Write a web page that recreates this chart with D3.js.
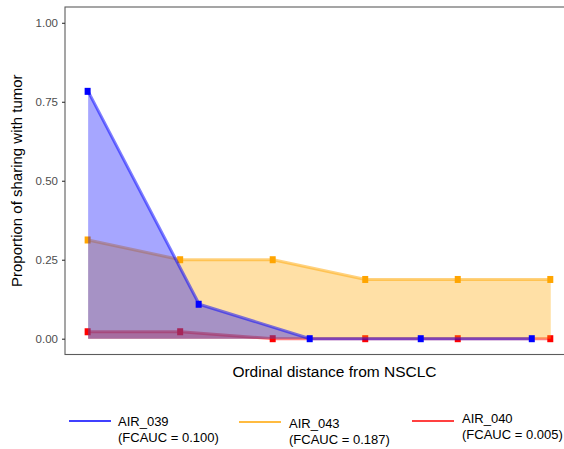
<!DOCTYPE html>
<html>
<head>
<meta charset="utf-8">
<script src="https://cdn.jsdelivr.net/npm/d3@7"></script>
<style>
  html, body { margin: 0; padding: 0; background: #fff; }
  svg { display: block; font-family: "Liberation Sans", Arial, Helvetica, sans-serif; }
</style>
</head>
<body>
<svg id="chart" width="564" height="449"></svg>
<script>
// Sharing proportion by ordinal distance for each patient
const seriesNames = ["AIR_039", "AIR_043", "AIR_040"];
const seriesColors = ["#0000FF", "#FFA500", "#FF0000"];
const fcaucLabels = ["(FCAUC = 0.100)", "(FCAUC = 0.187)", "(FCAUC = 0.005)"];

const xAIR039 = [0, 0.24, 0.48, 0.72, 0.96];
const yAIR039 = [0.783, 0.109, 0, 0, 0];
const xAIR043 = [0, 0.2, 0.4, 0.6, 0.8, 1.0];
const yAIR043 = [0.3125, 0.25, 0.25, 0.1875, 0.1875, 0.1875];
const xAIR040 = [0, 0.2, 0.4, 0.6, 0.8, 1.0];
const yAIR040 = [0.022, 0.022, 0, 0, 0, 0];

const yTicks = [0, 0.25, 0.5, 0.75, 1.0];

const series = [
  { name: seriesNames[0], color: seriesColors[0], label: fcaucLabels[0],
    pts: xAIR039.map((x, i) => ({ x, y: yAIR039[i] })) },
  { name: seriesNames[1], color: seriesColors[1], label: fcaucLabels[1],
    pts: xAIR043.map((x, i) => ({ x, y: yAIR043[i] })) },
  { name: seriesNames[2], color: seriesColors[2], label: fcaucLabels[2],
    pts: xAIR040.map((x, i) => ({ x, y: yAIR040[i] })) }
];

const svg = d3.select("#chart");
const panel = { left: 65, right: 604, top: 7, bottom: 354.5 };

const x = d3.scaleLinear().domain([-0.05, 1.115]).range([panel.left, panel.right]);
const y = d3.scaleLinear().domain([-0.05, 1.05]).range([panel.bottom, panel.top]);

// panel border
svg.append("rect")
  .attr("x", panel.left).attr("y", panel.top)
  .attr("width", panel.right - panel.left).attr("height", panel.bottom - panel.top)
  .attr("fill", "none").attr("stroke", "#5c5c5c").attr("stroke-width", 1.1);

// y axis
const yAxis = d3.axisLeft(y).tickValues(yTicks).tickFormat(d3.format(".2f"))
  .tickSize(3).tickPadding(4);
const gy = svg.append("g").attr("transform", `translate(${panel.left},0)`).call(yAxis);
gy.select(".domain").remove();
gy.selectAll(".tick line").attr("stroke", "#333").attr("stroke-width", 1.1);
gy.selectAll(".tick text").attr("fill", "#4d4d4d")
  .style("font-size", "11.5px").style("font-family", "Liberation Sans, Arial, sans-serif");

// axis titles
svg.append("text")
  .attr("transform", `translate(22,${(panel.top + panel.bottom) / 2}) rotate(-90)`)
  .attr("text-anchor", "middle")
  .style("font-size", "15px").attr("fill", "#000")
  .text("Proportion of sharing with tumor");

svg.append("text")
  .attr("x", (panel.left + panel.right) / 2).attr("y", 377)
  .attr("text-anchor", "middle")
  .style("font-size", "15.5px").attr("fill", "#000")
  .text("Ordinal distance from NSCLC");

const plot = svg.append("g");
const line = d3.line().x(d => x(d.x)).y(d => y(d.y));
const area = d3.area().x(d => x(d.x)).y0(y(0)).y1(d => y(d.y));

// each patient: shaded area, then line, then points
const drawOrder = [2, 1, 0];
drawOrder.forEach(i => {
  const s = series[i];
  const g = plot.append("g");
  g.append("path").datum(s.pts)
    .attr("d", area)
    .attr("fill", s.color).attr("fill-opacity", 0.35);
  g.append("path").datum(s.pts)
    .attr("d", line).attr("fill", "none")
    .attr("stroke", s.color).attr("stroke-opacity", 0.5)
    .attr("stroke-width", 3).attr("stroke-linejoin", "round");
  g.selectAll("rect").data(s.pts).enter().append("rect")
    .attr("x", d => x(d.x) - 3.5).attr("y", d => y(d.y) - 3.5)
    .attr("width", 6).attr("height", 7)
    .attr("fill", s.color);
});

// legend
const legendItems = [
  { lx: 69, tx: 118, ly: 421, ty: 421 },
  { lx: 239, tx: 289, ly: 422, ty: 423 },
  { lx: 412, tx: 462, ly: 421, ty: 418 }
];
series.forEach((s, i) => {
  const p = legendItems[i];
  svg.append("line")
    .attr("x1", p.lx).attr("x2", p.lx + 42)
    .attr("y1", p.ly).attr("y2", p.ly)
    .attr("stroke", s.color).attr("stroke-width", 1.5);
  const t = svg.append("text").attr("x", p.tx).attr("y", p.ty + 4.5)
    .style("font-size", "13px").attr("fill", "#000");
  t.append("tspan").attr("x", p.tx).text(s.name);
  t.append("tspan").attr("x", p.tx).attr("dy", 16).text(s.label);
});
</script>
</body>
</html>
